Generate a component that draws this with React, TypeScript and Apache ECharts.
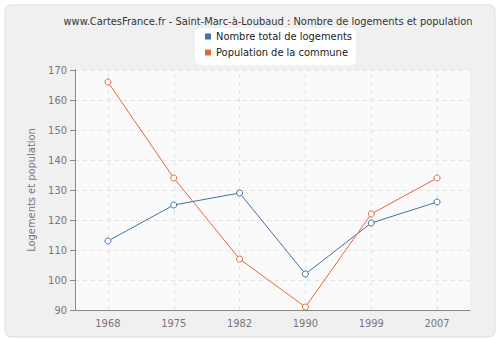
import React, { useEffect, useRef } from "react";
import * as echarts from "echarts";

const years = ["1968", "1975", "1982", "1990", "1999", "2007"];
const logements = [113, 125, 129, 102, 119, 126];
const population = [166, 134, 107, 91, 122, 134];
const titleText = "www.CartesFrance.fr - Saint-Marc-à-Loubaud : Nombre de logements et population";
const seriesNames = ["Nombre total de logements", "Population de la commune"];
const yAxisName = "Logements et population";

const blue = "#4271a5";
const orange = "#e6683c";

export default function App() {
  const ref = useRef<HTMLDivElement>(null);
  useEffect(() => {
    document.body.style.margin = "0";
    const chart = echarts.init(ref.current!, null, { renderer: "svg" });
    const font = "'DejaVu Sans Condensed', 'Liberation Sans', sans-serif";
    chart.setOption({
      animation: false,
      backgroundColor: "#ffffff",
      textStyle: { fontFamily: font },
      graphic: [
        {
          type: "rect",
          shape: { x: 5, y: 5, width: 490, height: 332, r: 6 },
          style: { fill: "#f0f0f0", stroke: "#dddddd", lineWidth: 1 },
          z: -10,
        },
        {
          type: "rect",
          shape: { x: 195, y: 28, width: 161, height: 37, r: 5 },
          style: { fill: "#ffffff" },
          z: -5,
        },
      ],
      title: {
        text: titleText,
        left: 263,
        textAlign: "center",
        top: 11,
        textStyle: { fontSize: 11, fontWeight: "normal", color: "#333", fontFamily: font },
      },
      legend: {
        orient: "vertical",
        left: 200,
        top: 26,
        itemWidth: 6,
        itemHeight: 6,
        itemGap: 5,
        icon: "rect",
        textStyle: { fontSize: 11, color: "#222", fontFamily: font },
        data: [
          { name: seriesNames[0], itemStyle: { color: blue, borderWidth: 0 } },
          { name: seriesNames[1], itemStyle: { color: orange, borderWidth: 0 } },
        ],
      },
      grid: {
        left: 75,
        right: 30,
        top: 70,
        bottom: 30,
        show: true,
        backgroundColor: "#fafafa",
        borderWidth: 0,
      },
      xAxis: {
        type: "category",
        data: years,
        boundaryGap: true,
        axisLine: { lineStyle: { color: "#888" } },
        axisTick: { alignWithLabel: true, length: 5, lineStyle: { color: "#888" } },
        axisLabel: { color: "#777", fontSize: 11, margin: 8, fontFamily: font },
        splitLine: { show: false },
      },
      yAxis: {
        type: "value",
        min: 90,
        max: 170,
        interval: 10,
        name: yAxisName,
        nameLocation: "middle",
        nameGap: 36,
        nameTextStyle: { color: "#777", fontSize: 11, fontFamily: font },
        axisLine: { show: true, lineStyle: { color: "#888" } },
        axisTick: { show: true, length: 5, lineStyle: { color: "#888" } },
        axisLabel: { color: "#777", fontSize: 11, margin: 8, fontFamily: font },
        splitLine: { show: true, lineStyle: { color: "#e2e2e2", type: [4, 4] } },
      },
      series: [
        {
          name: seriesNames[0],
          type: "line",
          data: logements,
          symbol: "circle",
          symbolSize: 6,
          color: blue,
          z: 3,
          lineStyle: { width: 1, color: blue },
          itemStyle: { color: "#ffffff", borderColor: blue, borderWidth: 1 },
          markLine: {
            silent: true,
            symbol: "none",
            label: { show: false },
            z: 1,
            lineStyle: { color: "#e2e2e2", type: [4, 4], width: 1 },
            data: years.map((y) => ({ xAxis: y })),
          },
        },
        {
          name: seriesNames[1],
          type: "line",
          data: population,
          symbol: "circle",
          symbolSize: 6,
          color: orange,
          z: 3,
          lineStyle: { width: 1, color: orange },
          itemStyle: { color: "#ffffff", borderColor: orange, borderWidth: 1 },
        },
      ],
    });
    return () => chart.dispose();
  }, []);
  return <div ref={ref} style={{ width: 500, height: 340 }} />;
}
